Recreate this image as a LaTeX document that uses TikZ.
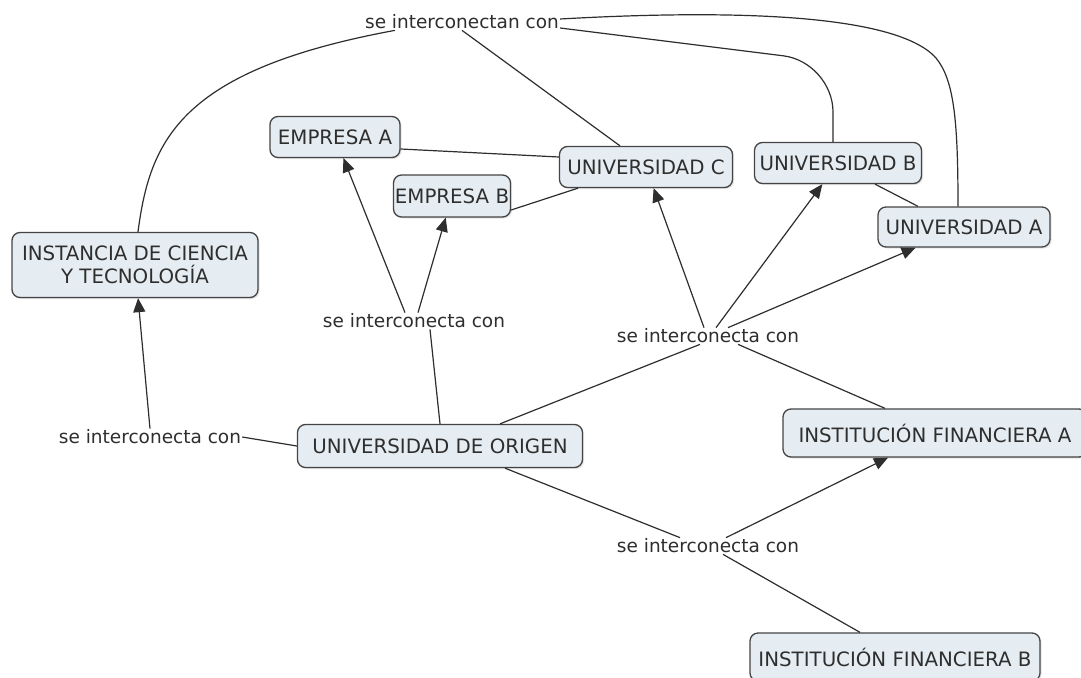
\documentclass[tikz,border=0pt]{standalone}
\usepackage{fontspec}
\setmainfont{DejaVu Sans}
\usetikzlibrary{arrows.meta,shadows}
\definecolor{boxfill}{HTML}{E6EDF2}
\definecolor{boxline}{HTML}{444444}
\definecolor{ink}{HTML}{2E2E2E}
\begin{document}
\begin{tikzpicture}[x=1pt,y=-1pt,
  concept/.style={draw=boxline, line width=1.3pt, fill=boxfill, rounded corners=8pt,
    text=ink, font=\fontsize{19.8}{23}\selectfont, inner sep=0pt, align=center,
    drop shadow={opacity=0.2,shadow xshift=1.5pt,shadow yshift=-1.5pt}},
  link/.style={text=ink, font=\fontsize{18.5}{22}\selectfont, inner sep=1pt},
  conn/.style={draw=ink, line width=1.2pt},
  arr/.style={conn, -{Triangle[length=14pt,width=12pt]}}]
\useasboundingbox (0,0) rectangle (1081,677);
\fill[white] (0,0) rectangle (1081,677);

% concepts
\node[concept, minimum width=130pt, minimum height=41pt] (empA) at (335,137) {EMPRESA A};
\node[concept, minimum width=117pt, minimum height=42pt] (empB) at (452,196) {EMPRESA B};
\node[concept, minimum width=173pt, minimum height=41pt] (uniC) at (646,167) {UNIVERSIDAD C};
\node[concept, minimum width=167pt, minimum height=41pt] (uniB) at (838,163) {UNIVERSIDAD B};
\node[concept, minimum width=172pt, minimum height=40pt] (uniA) at (964,227) {UNIVERSIDAD A};
\node[concept, minimum width=246pt, minimum height=65pt] (inst) at (135,265) {INSTANCIA DE CIENCIA\\Y TECNOLOGÍA};
\node[concept, minimum width=285pt, minimum height=43pt] (orig) at (440,446) {UNIVERSIDAD DE ORIGEN};
\node[concept, minimum width=304pt, minimum height=48pt] (finA) at (935,433) {INSTITUCIÓN FINANCIERA A};
\node[concept, minimum width=290pt, minimum height=48pt] (finB) at (895,657) {INSTITUCIÓN FINANCIERA B};

% linking phrases
\node[link] (lTop) at (462,22) {se interconectan con};
\node[link] (lLeft) at (150,437) {se interconecta con};
\node[link] (lMid) at (414,321) {se interconecta con};
\node[link] (lRight) at (708,336) {se interconecta con};
\node[link] (lBot) at (708,546) {se interconecta con};

% left
\draw[arr] (lLeft.north) -- (inst);
\draw[conn] (lLeft.east) -- (orig.west);
% middle
\draw[conn] (orig.north) -- ([xshift=16pt]lMid.south);
\draw[arr] ([xshift=-9pt]lMid.north) -- (empA);
\draw[arr] ([xshift=4pt]lMid.north) -- (empB);
% right
\draw[conn] ([xshift=60pt]orig.north) -- ([xshift=-8pt]lRight.south);
\draw[arr] ([xshift=-4pt]lRight.north) -- (uniC);
\draw[arr] ([xshift=8pt]lRight.north) -- (uniB);
\draw[arr] ([xshift=20pt]lRight.north) -- (uniA);
\draw[conn] ([xshift=30pt]lRight.south) -- ([xshift=-50pt]finA.north);
% bottom
\draw[conn] ([xshift=65pt]orig.south) -- ([xshift=-28pt]lBot.north);
\draw[arr] ([xshift=18pt]lBot.north) -- ([xshift=-47pt]finA.south);
\draw[conn] ([xshift=15pt]lBot.south) -- ([xshift=-35pt]finB.north);
% side links
\draw[conn] ([yshift=-12pt]empA.east) -- ([yshift=10pt]uniC.west);
\draw[conn] ([yshift=-14pt]empB.east) -- ([xshift=-68pt]uniC.south);
\draw[conn] ([xshift=37pt]uniB.south) -- ([xshift=-46pt]uniA.north);
% top phrase
\draw[conn] ([xshift=-67pt]lTop.south) .. controls (180,70) and (150,140) .. ([xshift=3pt]inst.north);
\draw[conn] (lTop.south) -- ([xshift=-26pt]uniC.north);
\draw[conn, rounded corners=50pt] ([yshift=-6pt]lTop.east) -- (833,62) -- ([xshift=-5pt]uniB.north);
\draw[conn] ([yshift=3pt]lTop.east) .. controls (720,10) and (895,12) .. (936,58) .. controls (954,80) and (958,120) .. ([xshift=-6pt]uniA.north);
\end{tikzpicture}
\end{document}
